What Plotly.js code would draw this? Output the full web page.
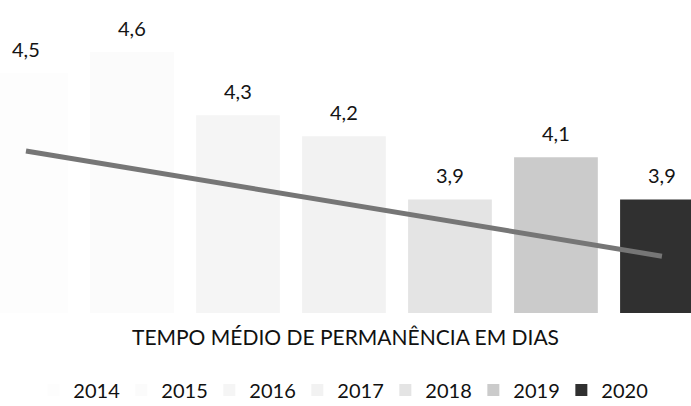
<!DOCTYPE html>
<html>
<head>
<meta charset="utf-8">
<script src="https://cdn.plot.ly/plotly-3.0.1.min.js"></script>
<style>
  html, body { margin: 0; padding: 0; background: #fff; }
  #chart { width: 691px; height: 406px; }
</style>
</head>
<body>
<div id="chart"></div>
<script>
'use strict';

// anos e tempo médio de permanência (dias)
const years = ['2014', '2015', '2016', '2017', '2018', '2019', '2020'];
const tmp = [4.5, 4.6, 4.3, 4.2, 3.9, 4.1, 3.9];
// tons de cinza das barras, do mais claro ao escuro
const barColors = ['#fdfdfd', '#fbfbfb', '#f5f5f5', '#f2f2f2', '#e4e4e4', '#cbcbcb', '#303030'];
// linha de tendência (início e fim)
const trendX = ['2014', '2020'];
const trendY = [4.13, 3.63];

const FONT = 'Lato, "Open Sans", sans-serif';
const fmt = v => v.toFixed(1).replace('.', ',');

const traces = years.map((yr, i) => ({
  type: 'bar',
  x: [yr], y: [tmp[i]],
  name: yr,
  width: 0.79,
  marker: { color: barColors[i], line: { width: 0 } },
  hoverinfo: 'skip',
}));

traces.push({
  type: 'scatter', mode: 'lines',
  x: trendX, y: trendY,
  line: { color: '#767676', width: 5 },
  showlegend: false, hoverinfo: 'skip',
});

// rótulos de valor acima das barras (índice da categoria no eixo x)
const annotations = tmp.map((v, i) => ({
  x: i, y: v, xref: 'x', yref: 'y',
  yshift: 24, yanchor: 'middle', xanchor: 'center',
  text: fmt(v), showarrow: false,
  font: { family: FONT, size: 20, color: '#141414' },
}));

const layout = {
  width: 691, height: 406,
  margin: { l: 0, r: 0, t: 10, b: 93, autoexpand: false },
  paper_bgcolor: '#fff', plot_bgcolor: '#fff',
  barmode: 'overlay',
  showlegend: true,
  title: {
    text: 'TEMPO MÉDIO DE PERMANÊNCIA EM DIAS',
    x: 0.5, xanchor: 'center', y: 0.168, yanchor: 'middle',
    font: { family: FONT, size: 21, color: '#111' },
  },
  xaxis: {
    type: 'category', range: [-0.245, 6.274],
    showticklabels: false, showgrid: false, zeroline: false, showline: false, ticks: '',
  },
  yaxis: {
    range: [3.36, 4.8],
    showticklabels: false, showgrid: false, zeroline: false, showline: false, ticks: '',
  },
  legend: {
    orientation: 'h', x: 0.494, xanchor: 'center', y: -0.254, yanchor: 'middle',
    entrywidth: 43,
    font: { family: FONT, size: 20, color: '#111' },
    bgcolor: 'rgba(0,0,0,0)',
  },
  annotations: annotations,
};

Plotly.newPlot('chart', traces, layout, { displayModeBar: false, staticPlot: true });
</script>
</body>
</html>
